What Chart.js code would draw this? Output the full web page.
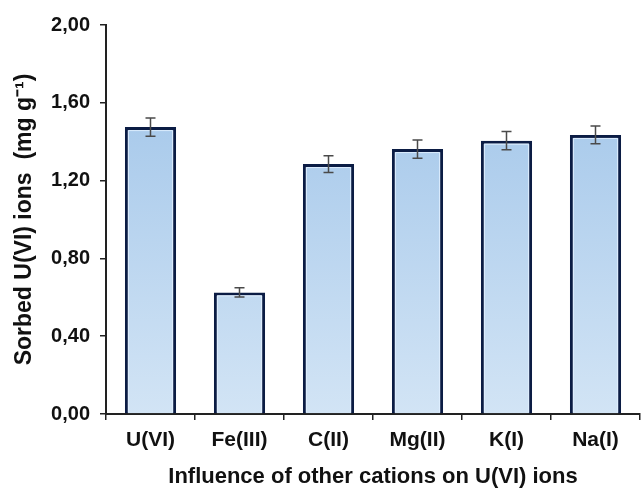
<!DOCTYPE html>
<html lang="en">
<head>
    <meta charset="UTF-8">
    <title>Sorbed U(VI) ions</title>
    <script src="https://cdn.jsdelivr.net/npm/chart.js"></script>
    <style>
        body {
            margin: 0;
            background: #ffffff;
        }
        .chart-box {
            position: relative;
            width: 644px;
            height: 488px;
        }
    </style>
</head>
<body>
<div class="chart-box">
    <canvas id="sorbChart"></canvas>
</div>

<script>
    // data
    const cations = ['U(VI)', 'Fe(III)', 'C(II)', 'Mg(II)', 'K(I)', 'Na(I)'];
    const sorbed = [1.475, 0.625, 1.285, 1.362, 1.405, 1.435];
    const errors = [0.047, 0.024, 0.043, 0.047, 0.047, 0.046];
    const yTicks = [0, 0.4, 0.8, 1.2, 1.6, 2.0];

    const font = "'Liberation Sans', Arial, sans-serif";

    // error bars drawn with the chart scales
    const errorBars = {
        id: 'errorBars',
        afterDatasetsDraw(chart) {
            const ctx = chart.ctx;
            const meta = chart.getDatasetMeta(0);
            const y = chart.scales.y;
            ctx.save();
            ctx.strokeStyle = '#4a4a4a';
            ctx.lineWidth = 1.5;
            meta.data.forEach((bar, i) => {
                const x = bar.x;
                const top = y.getPixelForValue(sorbed[i] + errors[i]);
                const bot = y.getPixelForValue(sorbed[i] - errors[i]);
                ctx.beginPath();
                ctx.moveTo(x, top); ctx.lineTo(x, bot);
                ctx.moveTo(x - 5, top); ctx.lineTo(x + 5, top);
                ctx.moveTo(x - 5, bot); ctx.lineTo(x + 5, bot);
                ctx.stroke();
            });
            ctx.restore();
        }
    };

    // light inner edge of the bars (top, left, right)
    const innerEdge = {
        id: 'innerEdge',
        afterDatasetsDraw(chart) {
            const ctx = chart.ctx;
            const meta = chart.getDatasetMeta(0);
            ctx.save();
            ctx.strokeStyle = 'rgba(225, 240, 255, 0.9)';
            ctx.lineWidth = 1;
            meta.data.forEach(bar => {
                const l = bar.x - bar.width / 2 + 3.5;
                const r = bar.x + bar.width / 2 - 3.5;
                const t = bar.y + 3.5;
                const b = bar.base - 1;
                ctx.beginPath();
                ctx.moveTo(l, b); ctx.lineTo(l, t); ctx.lineTo(r, t); ctx.lineTo(r, b);
                ctx.stroke();
            });
            ctx.restore();
        }
    };

    const ctx = document.getElementById('sorbChart').getContext('2d');
    new Chart(ctx, {
        type: 'bar',
        data: {
            labels: cations,
            datasets: [{
                data: sorbed,
                backgroundColor: function (c) {
                    const area = c.chart.chartArea;
                    if (!area) return '#a9c9ea';
                    const g = c.chart.ctx.createLinearGradient(0, area.top, 0, area.bottom);
                    g.addColorStop(0, '#9cc2e8');
                    g.addColorStop(1, '#d2e4f5');
                    return g;
                },
                borderColor: '#0b1c44',
                borderWidth: 3,
                borderSkipped: 'bottom',
                barPercentage: 0.575,
                categoryPercentage: 1.0
            }]
        },
        options: {
            responsive: true,
            maintainAspectRatio: false,
            animation: false,
            layout: {
                padding: { top: 25, right: 4, left: 0, bottom: 0 }
            },
            plugins: {
                legend: { display: false },
                tooltip: { enabled: false }
            },
            scales: {
                x: {
                    grid: {
                        display: true,
                        drawOnChartArea: false,
                        drawTicks: true,
                        tickLength: 6,
                        color: '#222',
                        lineWidth: 1.5
                    },
                    border: { color: '#222', width: 2 },
                    ticks: {
                        color: '#111',
                        font: { family: font, size: 21, weight: 'bold' },
                        padding: 8
                    },
                    title: {
                        display: true,
                        text: 'Influence of other cations on U(VI) ions',
                        color: '#111',
                        font: { family: font, size: 22, weight: 'bold' },
                        padding: { top: 0, bottom: -2 }
                    },
                    afterFit(scale) { scale.height = 74; }
                },
                y: {
                    min: 0,
                    max: 2,
                    afterBuildTicks(scale) {
                        scale.ticks = yTicks.map(v => ({ value: v }));
                    },
                    grid: {
                        display: true,
                        drawOnChartArea: false,
                        drawTicks: true,
                        tickLength: 6,
                        color: '#222',
                        lineWidth: 1.5
                    },
                    border: { color: '#222', width: 2 },
                    ticks: {
                        color: '#111',
                        font: { family: font, size: 20, weight: 'bold' },
                        padding: 10,
                        callback: v => v.toFixed(2).replace('.', ',')
                    },
                    title: {
                        display: true,
                        text: 'Sorbed U(VI) ions  (mg g\u207B\u00B9)',
                        color: '#111',
                        font: { family: font, size: 23, weight: 'bold' },
                        padding: { top: 11, bottom: 4 }
                    },
                    afterFit(scale) { scale.width = 106; }
                }
            }
        },
        plugins: [innerEdge, errorBars]
    });
</script>
</body>
</html>
